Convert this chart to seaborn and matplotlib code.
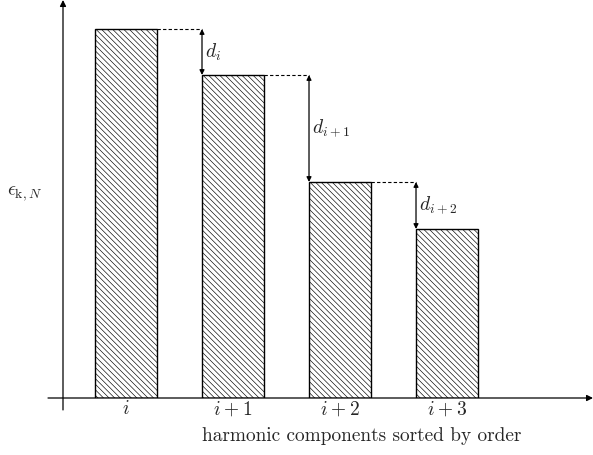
import matplotlib
matplotlib.use("Agg")
import matplotlib.pyplot as plt
import seaborn as sns

# harmonic components, sorted by order
components = ["$i$", r"$i\:+\:1$", r"$i\:+\:2$", r"$i\:+\:3$"]
energy = [3.69, 3.23, 2.16, 1.69]
gap_labels = ["$d_i$", "$d_{i+1}$", "$d_{i+2}$"]

sns.set_theme(style="white")
plt.rcParams["mathtext.fontset"] = "cm"
plt.rcParams["axes.formatter.use_mathtext"] = True
plt.rcParams["hatch.linewidth"] = 0.45
plt.rcParams["hatch.color"] = "#333333"

fig = plt.figure(figsize=(5.93, 4.55), dpi=100)
ax = fig.add_axes([63 / 593, 57 / 455, 530 / 593, 398 / 455])

bw = 0.58
sns.barplot(x=components, y=energy, color="white", edgecolor="black",
            linewidth=1.0, width=bw, saturation=1, ax=ax)
for p in ax.patches:
    p.set_hatch("\\\\\\\\\\\\")
    p.set_facecolor("white")

ax.set_xlim(-0.589, 4.364)
ax.set_ylim(0, 3.98)
for s in ax.spines.values():
    s.set_visible(False)
ax.set_yticks([])
ax.tick_params(axis="x", length=0, pad=1, labelsize=14)

# axes arrows
arr = dict(arrowstyle="-|>", lw=0.9, color="black", shrinkA=0, shrinkB=0,
           mutation_scale=9)
ax.annotate("", xy=(1.0, 0), xytext=(-0.0283, 0), xycoords="axes fraction",
            arrowprops=arr, annotation_clip=False)
ax.annotate("", xy=(0, 1.0), xytext=(0, -0.030), xycoords="axes fraction",
            arrowprops=arr, annotation_clip=False)

# gaps between neighbouring components
half = bw / 2
for k in range(len(energy) - 1):
    x0 = k + half
    x1 = k + 1 - half
    ax.plot([x0, x1], [energy[k], energy[k]], color="black", lw=0.8,
            dashes=(3, 2))
    ax.annotate("", xy=(x1, energy[k + 1]), xytext=(x1, energy[k]),
                arrowprops=dict(arrowstyle="<|-|>", lw=0.9, color="black",
                                shrinkA=0, shrinkB=0, mutation_scale=7))
    ax.text(x1 + 0.03, (energy[k] + energy[k + 1]) / 2, gap_labels[k],
            fontsize=14, ha="left", va="center")

ax.set_xlabel("harmonic components sorted by order", fontsize=13.9,
              fontfamily="cmr10")
ax.xaxis.set_label_coords((362 - 63) / 530, -(436 - 398) / 398)
ax.xaxis.label.set_va("center")
ax.set_ylabel(r"$\epsilon_{\mathrm{k},N}$", fontsize=14, rotation=0,
              ha="center", va="center")
ax.yaxis.set_label_coords((25 - 63) / 530, (398 - 193) / 398)

fig.savefig("out.png", dpi=100)
